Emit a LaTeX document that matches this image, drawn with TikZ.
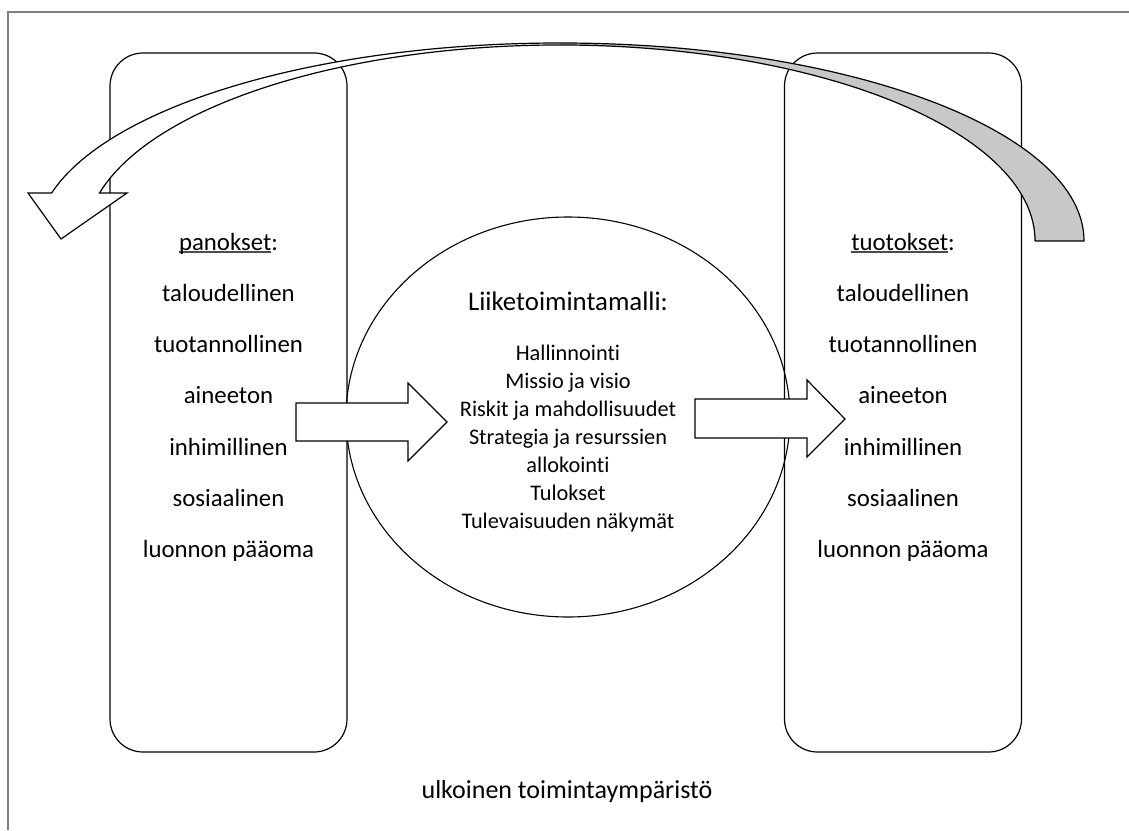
\documentclass[tikz,border=0pt]{standalone}
\usepackage{fontspec}
\setmainfont{Carlito}[Ligatures={NoCommon}]
\usetikzlibrary{shapes.geometric}
\definecolor{bandgray}{HTML}{C8C8C8}
\definecolor{framegray}{HTML}{7F7F7F}
\newcommand\ulword[1]{\setbox0\hbox{#1}\rlap{\color{black!70}\rule[-0.12em]{\wd0}{0.07em}}\box0}
\begin{document}
\begin{tikzpicture}[x=1pt,y=-1pt,
  frameline/.style={draw=framegray, line width=1.6pt},
  roundbox/.style={draw, line width=1.2pt, rounded corners=33pt, minimum width=237pt, minimum height=699pt, inner sep=0pt, outer sep=0pt},
  bmellipse/.style={draw, ellipse, line width=1.1pt, minimum width=444pt, minimum height=400pt, inner sep=0pt, outer sep=0pt},
  coltext/.style={font=\fontsize{24.8}{30}\selectfont, anchor=base, inner sep=0pt},
  titletext/.style={font=\fontsize{26.8}{32}\selectfont, anchor=base, inner sep=0pt},
  itemtext/.style={font=\fontsize{22.3}{28}\selectfont, anchor=base, inner sep=0pt},
  envtext/.style={font=\fontsize{26}{32}\selectfont, anchor=base, inner sep=0pt},
  blockarrow/.style={draw, fill=white, line width=1.2pt, line join=miter},
  bandback/.style={fill=bandgray},
  bandfront/.style={fill=white},
  bandedge/.style={draw, line width=1.2pt, line join=miter},
  outerarc/.style={x radius=524pt, y radius=198pt},
  innerarc/.style={x radius=475pt, y radius=196pt}
]
\useasboundingbox (0,0) rectangle (1129,830);
% outer frame (only top and left edges visible)
\coordinate (fbl) at (8,830);
\coordinate (ftl) at (8,12);
\coordinate (ftr) at (1129,12);
\draw[frameline] (fbl) -- (ftl) -- (ftr);

% input and output boxes
\node[roundbox] (inbox) at (228.5,402.5) {};
\node[roundbox] (outbox) at (903,402.5) {};

% business model ellipse
\node[bmellipse] (bm) at (568,417) {};

% curved return arrow (two elliptical arcs about a common centre)
\coordinate (tailout) at (1084,241);
\coordinate (tailin) at (1035,241);
\coordinate (topout) at (560,43);
\coordinate (topin) at (560,45);
\coordinate (shin) at (99.5,193);
\coordinate (hdin) at (127,193);
\coordinate (tip) at (61,239);
\coordinate (hdout) at (28,193);
\path[bandback] (tailout) arc[start angle=0, end angle=90, outerarc]
  -- (topin) arc[start angle=90, end angle=0, innerarc] -- cycle;
\path[bandfront] (topout) arc[start angle=90, end angle=165.97, outerarc]
  -- (hdout) -- (tip) -- (hdin) -- (shin)
  arc[start angle=165.82, end angle=90, innerarc] -- cycle;
\path[bandedge] (tailin) -- (tailout) arc[start angle=0, end angle=165.97, outerarc]
  -- (hdout) -- (tip) -- (hdin) -- (shin)
  arc[start angle=165.82, end angle=0, innerarc];

% block arrows
\coordinate (la1) at (296,403);
\coordinate (la2) at (408,403);
\coordinate (la3) at (408,383);
\coordinate (latip) at (447,422);
\coordinate (la5) at (408,461);
\coordinate (la6) at (408,441);
\coordinate (la7) at (296,441);
\path[blockarrow] (la1) -- (la2) -- (la3) -- (latip) -- (la5) -- (la6) -- (la7) -- cycle;
\coordinate (ra1) at (695,399);
\coordinate (ra2) at (807,399);
\coordinate (ra3) at (807,380);
\coordinate (ratip) at (845,419);
\coordinate (ra5) at (807,457);
\coordinate (ra6) at (807,438);
\coordinate (ra7) at (695,438);
\path[blockarrow] (ra1) -- (ra2) -- (ra3) -- (ratip) -- (ra5) -- (ra6) -- (ra7) -- cycle;

% left column
\node[coltext] (inhead) at (228.5,250) {\ulword{panokset}:};
\node[coltext] (in1) at (228.5,301) {taloudellinen};
\node[coltext] (in2) at (228.5,352) {tuotannollinen};
\node[coltext] (in3) at (228.5,403.5) {aineeton};
\node[coltext] (in4) at (228.5,455) {inhimillinen};
\node[coltext] (in5) at (228.5,506) {sosiaalinen};
\node[coltext] (in6) at (228.5,557) {luonnon pääoma};

% right column
\node[coltext] (outhead) at (903,250) {\ulword{tuotokset}:};
\node[coltext] (out1) at (903,301) {taloudellinen};
\node[coltext] (out2) at (903,352) {tuotannollinen};
\node[coltext] (out3) at (903,403.5) {aineeton};
\node[coltext] (out4) at (903,455) {inhimillinen};
\node[coltext] (out5) at (903,506) {sosiaalinen};
\node[coltext] (out6) at (903,557) {luonnon pääoma};

% ellipse text
\node[titletext] (bmtitle) at (568,310.5) {Liiketoimintamalli:};
\node[itemtext] (bm1) at (568,360) {Hallinnointi};
\node[itemtext] (bm2) at (568,388) {Missio ja visio};
\node[itemtext] (bm3) at (568,416) {Riskit ja mahdollisuudet};
\node[itemtext] (bm4) at (568,444) {Strategia ja resurssien};
\node[itemtext] (bm5) at (568,472) {allokointi};
\node[itemtext] (bm6) at (568,500) {Tulokset};
\node[itemtext] (bm7) at (568,528) {Tulevaisuuden näkymät};

% environment label
\node[envtext] (env) at (567,798) {ulkoinen toimintaympäristö};
\end{tikzpicture}
\end{document}
